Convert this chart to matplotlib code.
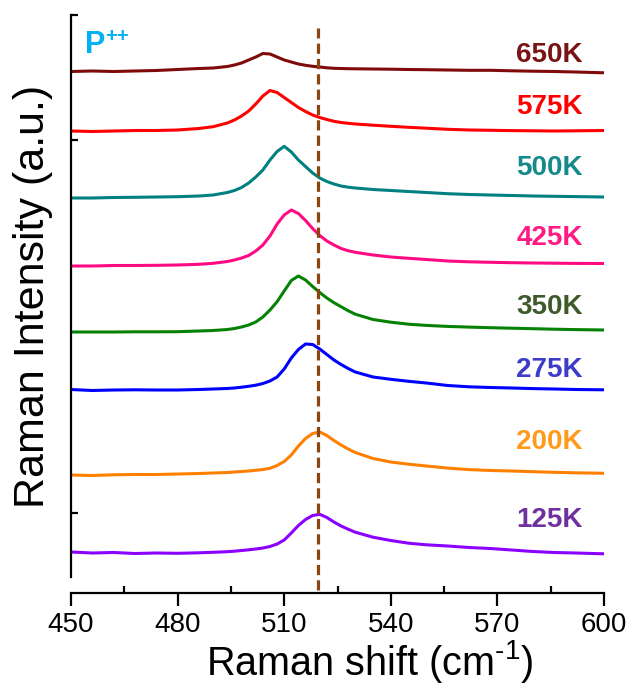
import matplotlib
matplotlib.use("Agg")
import matplotlib.pyplot as plt
from matplotlib.ticker import MultipleLocator

plt.rcParams['font.family'] = ['Liberation Sans', 'DejaVu Sans']
plt.rcParams['mathtext.fontset'] = 'custom'
plt.rcParams['mathtext.rm'] = 'Liberation Sans'
plt.rcParams['mathtext.it'] = 'Liberation Sans:italic'
plt.rcParams['mathtext.bf'] = 'Liberation Sans:bold'

# Raman shift grid (cm^-1)
shift = [450, 456, 462, 468, 474, 480, 486, 490, 494, 496, 498, 500, 502, 504, 506,
         508, 510, 512, 514, 516, 518, 520, 522, 524, 526, 528, 530, 535, 540, 545,
         550, 556, 562, 568, 574, 580, 586, 592, 600]

# Stacked intensities (a.u.)
i_650K = [521.5, 522, 521.5, 522, 522.5, 523.5, 524.5, 525, 526.5, 528, 530, 533, 536, 539.5, 539,
          536, 533, 531, 529, 527.7, 526.7, 526, 525.2, 524.7, 524.5, 524.3, 524.2, 524, 523.8, 523.5,
          523.3, 523, 522.7, 522.7, 522.2, 521.8, 521.5, 521, 520.2]
i_575K = [462, 461.5, 462, 462.5, 462.5, 463, 464.5, 466.3, 470, 473, 477, 482, 489, 497, 502.5,
          500.5, 495.5, 490.5, 485.5, 481.5, 478, 475.5, 473.5, 471.7, 470.5, 469.7, 469, 467.8, 466.7, 465.7,
          464.8, 463.7, 463, 462.7, 462.4, 462.2, 462, 462.2, 462.5]
i_500K = [395, 395, 395.5, 395.7, 396, 396.3, 397, 398, 400.5, 402.5, 405.5, 410, 416, 423, 433,
          441.5, 446.7, 441, 433, 426.5, 420, 415, 411.5, 409, 407, 405.8, 405, 403.5, 402.5, 401.5,
          400.5, 399.3, 398.5, 398, 397.5, 397, 396.7, 396.4, 396]
i_425K = [327, 327, 327.5, 327.5, 327.7, 328, 328.7, 329.7, 331.5, 333, 335, 337.5, 342, 348, 357,
          369, 378, 383, 379.5, 372.5, 364.5, 357.5, 352, 348, 344.5, 342.3, 340.7, 338, 336, 334.7,
          333.5, 332, 331.2, 330.7, 330.3, 330, 329.8, 329.6, 329.5]
i_350K = [261, 261, 261, 261.2, 261.2, 261.3, 262, 262.5, 263.5, 264.5, 266, 268, 271, 276, 283,
          291.3, 302, 312.5, 317, 313, 306.5, 300.5, 295, 290.3, 286.3, 282.3, 278.8, 273.5, 270.8, 268.8,
          267.6, 266.6, 265.9, 265.3, 264.8, 264.3, 263.8, 263.4, 263]
i_275K = [203.5, 202.5, 203, 203.2, 203, 203, 203.5, 204, 204.5, 205, 205.8, 206.7, 207.8, 209.5, 212,
          216, 224, 235, 243.5, 249, 248.5, 244, 238.5, 233, 228.5, 224.5, 221, 216, 213.7, 211.7,
          210, 207.5, 206.2, 205.5, 205, 204.4, 204, 203.5, 203.2]
i_200K = [118, 117.5, 118.2, 118.5, 118.5, 119, 119.5, 120, 120.5, 121, 121.5, 122, 122.7, 123.5, 124.7,
          127.5, 131.5, 138, 147, 154.5, 159.5, 161, 157.5, 152.5, 148, 144, 140.5, 134.5, 131, 128.8,
          127, 124.9, 123.4, 122.5, 122, 121.3, 120.7, 120.2, 119.7]
i_125K = [41, 40, 40.5, 39.5, 40, 39.7, 40.2, 40.7, 41.3, 41.8, 42.5, 43.2, 44, 45, 46.5,
          49, 53, 60, 67.5, 73.5, 77.5, 78.7, 75.5, 71, 67, 63.8, 60.8, 55.8, 52.5, 49.8,
          48.2, 47, 45.5, 44.5, 43, 41.5, 40.5, 40, 39.2]

temps = ['650K', '575K', '500K', '425K', '350K', '275K', '200K', '125K']
spectra = [i_650K, i_575K, i_500K, i_425K, i_350K, i_275K, i_200K, i_125K]
label_levels = [538, 486, 425, 355, 285.5, 223, 151, 73]
line_colors = ['#7f0a0a', '#ff0000', '#008080', '#ff0a82', '#058205', '#0000ff', '#ff8000', '#8b00ff']
text_colors = ['#7a1414', '#ff0000', '#168a8a', '#ff1a84', '#3e5a2a', '#3c3cc8', '#ff9a1a', '#7030a0']
ref_shift = 519.5

fig = plt.figure(figsize=(6.32, 6.86), dpi=100)
ax = fig.add_axes([71/632, 1-593/686, (604-71)/632, (593-15)/686])

for y, c in zip(spectra, line_colors):
    ax.plot(shift, y, color=c, lw=2.2, solid_joinstyle='round', solid_capstyle='round')

ax.axvline(ref_shift, ymin=3/578, ymax=565/578, color='#8b4513', lw=2.3,
           dashes=(3.2, 1.6), zorder=5)

for t, lv, c in zip(temps, label_levels, text_colors):
    ax.text(594, lv, t, color=c, fontsize=20, fontweight='bold',
            ha='right', va='center')

ax.text(454, 540, 'P', color='#00b0f0', fontsize=22, fontweight='bold', ha='left', va='baseline')
ax.text(459.6, 551, '++', color='#00b0f0', fontsize=14.5, fontweight='bold', ha='left', va='baseline')

ax.set_xlim(450, 600)
ax.set_ylim(0, 578)
ax.xaxis.set_major_locator(MultipleLocator(30))
ax.xaxis.set_minor_locator(MultipleLocator(15))
ax.set_yticks([80, 453, 578])
ax.set_yticklabels([])
ax.yaxis.set_minor_locator(plt.NullLocator())

for s in ['top', 'right']:
    ax.spines[s].set_visible(False)
ax.spines['left'].set_bounds(16, 578)
ax.spines['left'].set_linewidth(1.6)
ax.spines['bottom'].set_linewidth(1.6)
ax.tick_params(axis='x', which='major', direction='out', length=9.5, width=1.6,
               labelsize=20, pad=4.5)
ax.tick_params(axis='x', which='minor', direction='in', length=5, width=1.6)
ax.tick_params(axis='y', which='major', direction='in', length=5, width=1.6)

ax.set_xlabel('Raman shift (cm$^{\\text{-1}}$)', fontsize=28.5, labelpad=0)
ax.xaxis.set_label_coords(0.561, -0.0785)
ax.xaxis.label.set_va('top')
ax.set_ylabel('Raman Intensity (a.u.)', fontsize=31)
ax.yaxis.set_label_coords(-0.034, 0.513)

fig.savefig('out.png', dpi=100)
